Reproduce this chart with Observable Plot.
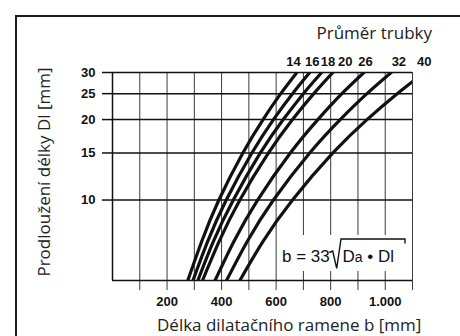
<!DOCTYPE html>
<html><head><meta charset="utf-8">
<script src="https://cdn.jsdelivr.net/npm/d3@7"></script>
<script src="https://cdn.jsdelivr.net/npm/@observablehq/plot@0.6"></script>
<style>
body{margin:0;background:#fff;overflow:hidden}
#wrap{position:relative;width:460px;height:336px;overflow:hidden;background:#fff}
#border{position:absolute;left:15px;top:15px;width:480px;height:360px;border:2px solid #1c1c1c;box-sizing:border-box}
#chart{position:absolute;left:0;top:0}
.title{position:absolute;font-family:"Open Sans",sans-serif;font-size:17px;color:#222;white-space:nowrap;line-height:1}
#formula{position:absolute;left:278px;top:235px;width:130px;height:36px;background:#fff}
</style>
</head><body>
<div id="wrap">
  <div id="border"></div>
  <div id="chart"></div>
  <div class="title" id="legendTitle" style="right:28px;top:24px">Průměr trubky</div>
  <div class="title" id="yTitle" style="left:43px;top:172px;transform:translate(-50%,-50%) rotate(-90deg)">Prodloužení délky Dl [mm]</div>
  <div class="title" id="xTitle" style="left:157px;top:316px">Délka dilatačního ramene b [mm]</div>
  <div id="formula">
    <svg width="130" height="36" style="font-family:'Liberation Sans',Arial,sans-serif;font-size:17px;fill:#111">
      <text x="4" y="26.7">b = 33</text>
      <path d="M51.3,17.5 L54.7,16 L58.7,33.3 L63,4 L127,4 L127,8.5" fill="none" stroke="#111" stroke-width="1.4"/>
      <text x="64.5" y="26.7">D<tspan font-size="14">a</tspan> • Dl</text>
    </svg>
  </div>
</div>
<script>
// Pipe diameters Da (curve labels)
const diameters = [14, 16, 18, 20, 26, 32, 40];
// Elongation Dl [mm] at which the curves were read
const elongation = [5, 7, 10, 15, 20, 25, 30];
// Arm length b [mm] read for each diameter at the elongations above
const b14 = [276, 327, 390, 478, 552, 617, 676];
const b16 = [295, 349, 417, 511, 590, 660, 723];
const b18 = [313, 370, 443, 542, 626, 700, 767];
const b20 = [330, 391, 467, 572, 660, 738, 808];
const b26 = [376, 445, 532, 652, 753, 841, 922];
const b32 = [418, 494, 590, 723, 835, 933, 1022];
const b40 = [467, 552, 660, 808, 933, 1044, 1143];
const series = [b14, b16, b18, b20, b26, b32, b40];
// Curve label positions (x, in mm of b) above the top gridline
const labelX = [664, 732, 790, 853, 928, 1050, 1143];
// Axis ticks
const yTicks = [10, 15, 20, 25, 30];
const xGrid = [100, 200, 300, 400, 500, 600, 700, 800, 900, 1000, 1100];
const xTicks = [200, 400, 600, 800, 1000];
const xTickLabels = ["200", "400", "600", "800", "1.000"];

const xLabelMap = new Map(xTicks.map((t, i) => [t, xTickLabels[i]]));
const data = diameters.flatMap((Da, i) => series[i].map((b, j) => ({Da, Dl: elongation[j], b})));

const tickFont = "'Liberation Sans', Arial, sans-serif";
const chart = Plot.plot({
  width: 460, height: 336,
  marginLeft: 112, marginRight: 48, marginTop: 72, marginBottom: 56,
  x: {domain: [0, 1100], label: null},
  y: {type: "log", domain: [5, 30], label: null},
  style: {background: "transparent", fontFamily: tickFont, color: "#111"},
  marks: [
    Plot.ruleX(xGrid, {stroke: "#3a3a3a", strokeWidth: 1}),
    Plot.axisX(xGrid, {tickSize: 10, tickFormat: () => "", stroke: "#3a3a3a", strokeWidth: 1, label: null}),
    Plot.axisX(xTicks, {tickSize: 0, tickPadding: 16, tickFormat: d => xLabelMap.get(d), fontWeight: "bold", fontSize: 13, fill: "#111", label: null}),
    Plot.ruleY(yTicks, {stroke: "#111", strokeWidth: 1.5}),
    Plot.axisY(yTicks, {tickSize: 10, tickPadding: 7, tickFormat: d => String(d), fontWeight: "bold", fontSize: 13, stroke: "#111", strokeWidth: 1.5, fill: "#111", label: null}),
    Plot.ruleX([0], {stroke: "#111", strokeWidth: 1.5}),
    Plot.ruleY([5], {stroke: "#111", strokeWidth: 1.5}),
    Plot.line(data, {x: "b", y: "Dl", z: "Da", curve: "natural", stroke: "#111", strokeWidth: 3.2, clip: true}),
    Plot.text(diameters, {x: (d, i) => labelX[i], y: () => 30, dy: -7, lineAnchor: "bottom", text: d => String(d), fontWeight: "bold", fontSize: 13, fill: "#111"})
  ]
});
document.getElementById("chart").appendChild(chart);
</script>
</body></html>
